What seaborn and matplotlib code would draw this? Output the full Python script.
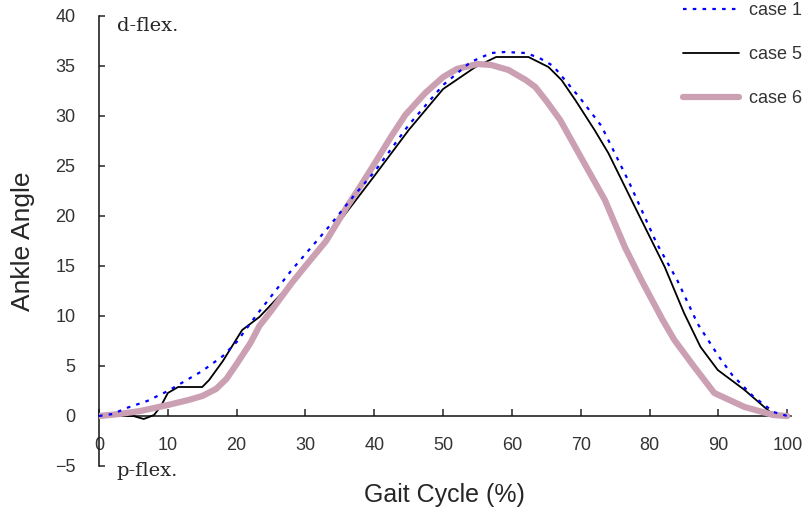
import numpy as np
import pandas as pd
import matplotlib
matplotlib.use("Agg")
import matplotlib.pyplot as plt
import seaborn as sns

# gait cycle (%) and ankle angle
case1_x = [0, 2, 4, 7, 10, 12, 15, 18, 20, 23, 28, 33, 37, 40, 45, 50, 54, 57, 59,
           62, 64, 66, 70, 73, 77, 81, 84, 87, 90, 92, 95, 98, 100]
case1_y = [0, 0.2, 0.8, 1.5, 2.5, 3.3, 4.5, 6.0, 7.4, 10.2, 14.6, 18.6, 22.0, 24.4,
           29.1, 33.1, 35.4, 36.3, 36.4, 36.3, 35.8, 35.0, 31.7, 29.0, 23.4, 17.3,
           13.6, 9.2, 6.0, 4.1, 2.0, 0.4, 0]

case5_x = [0, 5, 6.5, 8, 9, 10, 11.5, 15, 16, 18, 20.8, 23.3, 28, 34, 40, 45, 50,
           54.7, 57.7, 62.4, 65.3, 67.2, 69.2, 72, 74, 78.3, 82.2, 85, 87.4, 89.9,
           93.8, 97.5, 100]
case5_y = [0, 0, -0.3, 0.1, 1.0, 2.3, 2.9, 2.9, 3.6, 5.5, 8.6, 9.9, 13.3, 18.6, 24.0,
           28.6, 32.7, 34.9, 35.9, 35.9, 34.9, 33.6, 31.6, 28.6, 26.3, 20.3, 14.9,
           10.3, 6.9, 4.6, 2.6, 0.4, 0]

case6_x = [0, 3, 6, 10, 13, 15, 17, 18.5, 20, 22, 23.3, 25, 28, 30, 33, 36, 38, 40,
           42.5, 44.5, 47.4, 50, 52, 55, 57, 59.5, 62, 63.4, 65, 67, 70, 73.5, 76.4,
           78.8, 81.9, 83.6, 86.5, 89.4, 93.8, 98, 100]
case6_y = [0, 0.2, 0.5, 1.1, 1.6, 2.0, 2.7, 3.7, 5.2, 7.3, 9.0, 10.5, 13.3, 15.0,
           17.5, 20.9, 23.0, 25.2, 28.0, 30.1, 32.3, 33.9, 34.7, 35.2, 35.1, 34.6,
           33.6, 32.9, 31.5, 29.6, 25.9, 21.6, 16.9, 13.6, 9.6, 7.6, 4.9, 2.3, 0.9,
           0.1, 0]

x_ticks = [0, 10, 20, 30, 40, 50, 60, 70, 80, 90, 100]
y_ticks = [-5, 0, 5, 10, 15, 20, 25, 30, 35, 40]

sns.set_style("ticks")
plt.rcParams["font.family"] = ["Liberation Sans", "DejaVu Sans"]

fig = plt.figure(figsize=(8.09, 5.12), dpi=100)
ax = fig.add_axes([99 / 809, 46 / 512, 691.7 / 809, 450 / 512])

sns.lineplot(x=case5_x, y=case5_y, ax=ax, color="black", lw=1.3,
             sort=False, estimator=None, label="case 5", zorder=3)
sns.lineplot(x=case6_x, y=case6_y, ax=ax, color="#cca0b3", lw=4.5,
             sort=False, estimator=None, label="case 6", zorder=4)
sns.lineplot(x=case1_x, y=case1_y, ax=ax, color="#0000ff", lw=1.6,
             linestyle=(0, (1.6, 2.8)), sort=False, estimator=None,
             label="case 1", zorder=5)

ax.set_xlim(0, 100.5)
ax.set_ylim(-5, 40)
ax.set_xticks(x_ticks)
ax.set_yticks(y_ticks)
ax.set_yticklabels(["\u22125" if t < 0 else str(t) for t in y_ticks])

ax.spines["top"].set_visible(False)
ax.spines["right"].set_visible(False)
ax.spines["bottom"].set_position(("data", 0))
for s in ["left", "bottom"]:
    ax.spines[s].set_linewidth(1.1)
    ax.spines[s].set_color("#111111")

ax.tick_params(axis="x", direction="in", length=5, width=1.1, pad=15,
               labelsize=13, labelcolor="#333333")
ax.tick_params(axis="y", direction="in", length=4, width=1.1, pad=17,
               labelsize=13, labelcolor="#333333")

ax.set_ylabel("Ankle Angle", fontsize=19, labelpad=14)
ax.set_xlabel("Gait Cycle (%)", fontsize=18)
ax.xaxis.set_label_coords(0.5, -0.038)

ax.text(2.6, 39.0, "d-flex.", family="DejaVu Serif", fontsize=14,
        va="center", ha="left", clip_on=False)
ax.text(2.6, -5.5, "p-flex.", family="DejaVu Serif", fontsize=14,
        va="center", ha="left", clip_on=False)

handles, labels = ax.get_legend_handles_labels()
order = [labels.index(l) for l in ["case 1", "case 5", "case 6"]]
leg = ax.legend([handles[i] for i in order], [labels[i] for i in order],
                loc="upper left", bbox_to_anchor=(683 / 809, 1 - 2 / 512),
                bbox_transform=fig.transFigure, frameon=False, fontsize=13,
                handlelength=3.1, handletextpad=0.55, labelspacing=1.5,
                borderpad=0, borderaxespad=0)
for t in leg.get_texts():
    t.set_color("#333333")

fig.savefig("out.png", dpi=100)
